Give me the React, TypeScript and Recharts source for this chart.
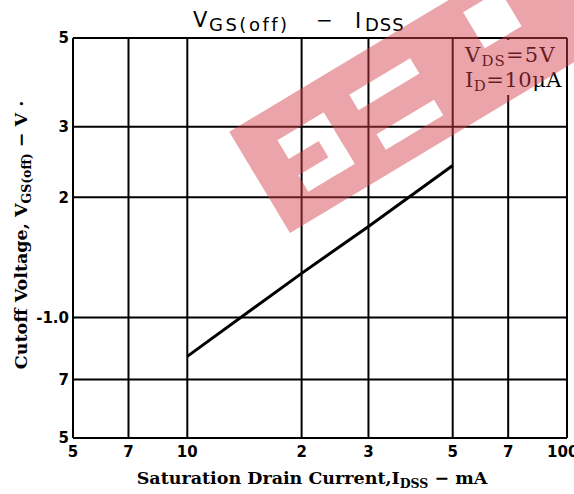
import React from 'react';
import { LineChart, Line, XAxis, YAxis, CartesianGrid } from 'recharts';

// IDSS (mA) vs VGS(off) (V)
const idss = [10, 20, 30, 50];
const vgsOff = [0.8, 1.29, 1.69, 2.4];

const xTicks = [5, 7, 10, 20, 30, 50, 70, 100];
const xTickLabels = ['5', '7', '10', '2', '3', '5', '7', '100'];
const yTicks = [0.5, 0.7, 1, 2, 3, 5];
const yTickLabels = ['5', '7', '-1.0', '2', '3', '5'];

const data = idss.map((x, i) => ({ x, y: vgsOff[i] }));

const serif = '"DejaVu Serif", "Liberation Serif", serif';
const sans = '"DejaVu Sans", sans-serif';

export default function App() {
  return (
    <div style={{ position: 'absolute', left: 0, top: 0, width: 574, height: 494, background: '#fff', overflow: 'hidden' }}>
      <LineChart
        width={574}
        height={494}
        data={data}
        margin={{ top: 38, right: 7, bottom: 26, left: 33 }}
      >
        <CartesianGrid stroke="#000" strokeWidth={2} />
        <XAxis
          dataKey="x"
          type="number"
          scale="log"
          domain={[5, 100]}
          ticks={xTicks}
          allowDataOverflow
          height={30}
          tickLine={false}
          tickSize={0}
          tickMargin={8}
          axisLine={{ stroke: '#000', strokeWidth: 2 }}
          tick={{ fill: '#000', fontSize: 15, fontWeight: 'bold', fontFamily: sans }}
          tickFormatter={(v: number) => xTickLabels[xTicks.indexOf(v)]}
        />
        <YAxis
          type="number"
          scale="log"
          domain={[0.5, 5]}
          ticks={yTicks}
          allowDataOverflow
          width={40}
          tickLine={false}
          tickSize={0}
          tickMargin={4}
          axisLine={{ stroke: '#000', strokeWidth: 2 }}
          tick={{ fill: '#000', fontSize: 15, fontWeight: 'bold', fontFamily: sans }}
          tickFormatter={(v: number) => yTickLabels[yTicks.indexOf(v)]}
        />
        <Line
          dataKey="y"
          type="linear"
          stroke="#000"
          strokeWidth={3}
          dot={false}
          isAnimationActive={false}
        />
      </LineChart>

      <svg width={574} height={494} style={{ position: 'absolute', left: 0, top: 0, pointerEvents: 'none' }}>
        {/* title */}
        <text x={193} y={27} fontFamily={sans} fontSize={21} fill="#000">V</text>
        <text x={209} y={31} fontFamily={sans} fontSize={18} letterSpacing={2.5} fill="#000">GS(off)</text>
        <text x={316} y={27} fontFamily={sans} fontSize={20} fill="#000">−</text>
        <text x={355} y={28} fontFamily={sans} fontSize={21} fill="#000">I</text>
        <text x={365} y={31} fontFamily={sans} fontSize={18} letterSpacing={1} fill="#000">DSS</text>

        {/* condition box */}
        <rect x={455} y={40} width={110} height={55} fill="#fff" />
        <text x={465} y={62} fontFamily={serif} fontSize={21} letterSpacing={1.2} fill="#000">
          V<tspan fontSize={15} dy={4}>DS</tspan><tspan dy={-4}>=5V</tspan>
        </text>
        <text x={465} y={87} fontFamily={serif} fontSize={21} letterSpacing={0.5} fill="#000">
          I<tspan fontSize={15} dy={4}>D</tspan><tspan dy={-4}>=10μA</tspan>
        </text>

        {/* axis titles */}
        <text x={312} y={484} textAnchor="middle" fontFamily={serif} fontSize={17.5} fontWeight="bold" fill="#000">
          Saturation Drain Current,I<tspan fontSize={12.5} dy={4}>DSS</tspan><tspan dy={-4}> − mA</tspan>
        </text>
        <text
          x={0}
          y={0}
          transform="translate(27, 235) rotate(-90)"
          textAnchor="middle"
          fontFamily={serif}
          fontSize={17.5}
          fontWeight="bold"
          fill="#000"
        >
          Cutoff Voltage, V<tspan fontSize={12.5} dy={4}>GS(off)</tspan><tspan dy={-4}> − V ·</tspan>
        </text>

        {/* watermark band with letter counters cut out */}
        <defs>
          <mask id="wm" maskUnits="userSpaceOnUse" x={0} y={0} width={574} height={494}>
            <g transform="translate(290, 233) rotate(-31)">
              <rect x={0} y={-118} width={600} height={118} fill="#fff" />
              <rect x={37} y={-86} width={54} height={22} fill="#000" />
              <rect x={72} y={-86} width={19} height={60} fill="#000" />
              <rect x={37} y={-45} width={54} height={19} fill="#000" />
              <rect x={122} y={-88} width={71} height={18} fill="#000" />
              <rect x={125} y={-40} width={67} height={18} fill="#000" />
              <rect x={262} y={-100} width={43} height={42} fill="#000" />
            </g>
          </mask>
        </defs>
        <rect x={0} y={0} width={574} height={494} fill="rgb(213,64,74)" opacity={0.47} mask="url(#wm)" />
      </svg>
    </div>
  );
}
